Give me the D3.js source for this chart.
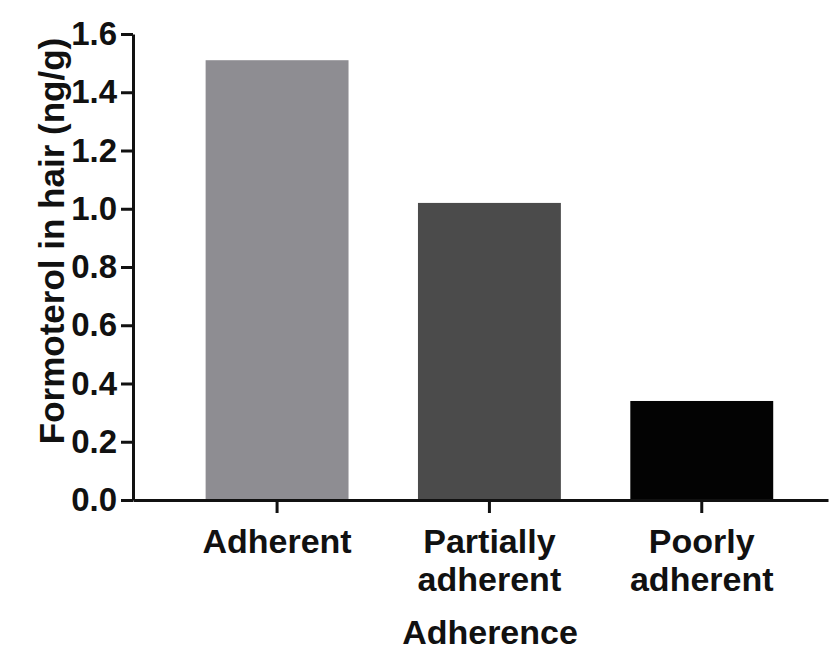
<!DOCTYPE html>
<html>
<head>
<meta charset="utf-8">
<script src="https://cdn.jsdelivr.net/npm/d3@7"></script>
<style>
  html, body { margin: 0; padding: 0; background: #fff; }
  svg { display: block; }
  text { font-family: "Liberation Sans", Arial, sans-serif; fill: #111; }
</style>
</head>
<body>
<svg id="chart" width="829" height="652"></svg>
<script>
const categories = ["Adherent", "Partially adherent", "Poorly adherent"];
const categoryLines = [["Adherent"], ["Partially", "adherent"], ["Poorly", "adherent"]];
const values = [1.51, 1.02, 0.34];
const barColors = ["#8e8d92", "#4b4b4b", "#030303"];
const yTicks = [0, 0.2, 0.4, 0.6, 0.8, 1.0, 1.2, 1.4, 1.6];
const yTitle = "Formoterol in hair (ng/g)";
const xTitle = "Adherence";

(function () {
const svg = d3.select("#chart");
const mLeft = 133, mRight = 828, mTop = 34, mBottom = 500;

const y = d3.scaleLinear().domain([0, 1.6]).range([mBottom, mTop]);
const x = d3.scaleBand().domain(categories).range([mLeft, mRight])
  .paddingInner(0.327).paddingOuter(0.3).align(0.57);

// bars
svg.append("g").selectAll("rect").data(values).join("rect")
  .attr("x", (d, i) => x(categories[i]))
  .attr("width", x.bandwidth())
  .attr("y", d => y(d))
  .attr("height", d => y(0) - y(d))
  .attr("fill", (d, i) => barColors[i]);

// y axis
const yAxis = svg.append("g").attr("transform", `translate(${mLeft},0)`)
  .call(d3.axisLeft(y).tickValues(yTicks).tickFormat(d3.format(".1f")).tickSize(12).tickPadding(4).tickSizeOuter(0));
yAxis.select(".domain").attr("stroke-width", 3).attr("stroke", "#111");
yAxis.selectAll(".tick line").attr("stroke-width", 3).attr("stroke", "#111");
yAxis.selectAll(".tick text").attr("font-size", 33).attr("font-weight", "bold")
  .attr("font-family", "Liberation Sans, Arial, sans-serif").attr("fill", "#111");

// x axis
const xAxis = svg.append("g").attr("transform", `translate(0,${mBottom})`)
  .call(d3.axisBottom(x).tickSize(13).tickSizeOuter(0).tickFormat(""));
xAxis.select(".domain").attr("stroke-width", 3).attr("stroke", "#111");
xAxis.selectAll(".tick line").attr("stroke-width", 3).attr("stroke", "#111");
xAxis.selectAll(".tick").each(function (d, i) {
  const t = d3.select(this).append("text")
    .attr("text-anchor", "middle").attr("font-size", 34).attr("font-weight", "bold")
    .attr("font-family", "Liberation Sans, Arial, sans-serif").attr("fill", "#111");
  categoryLines[i].forEach((line, j) => {
    t.append("tspan").attr("x", 0).attr("y", 53 + j * 38).text(line);
  });
});

// titles
svg.append("text")
  .attr("transform", `translate(64,241) rotate(-90)`)
  .attr("text-anchor", "middle")
  .attr("font-size", 35).attr("font-weight", "bold")
  .text(yTitle);

svg.append("text")
  .attr("x", 490).attr("y", 644)
  .attr("text-anchor", "middle")
  .attr("font-size", 34).attr("font-weight", "bold")
  .text(xTitle);
})();
</script>
</body>
</html>
